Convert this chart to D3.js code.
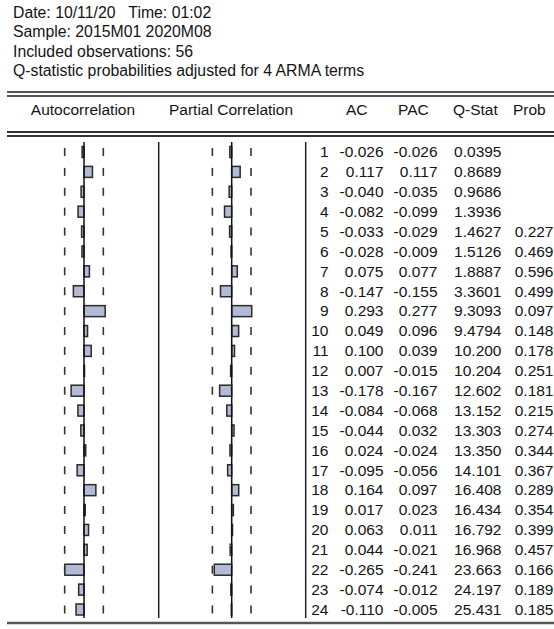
<!DOCTYPE html>
<html>
<head>
<meta charset="utf-8">
<script src="https://cdn.jsdelivr.net/npm/d3@7"></script>
<style>
  body { margin: 0; background: #fff; }
  svg text { font-family: "Liberation Sans", Arial, sans-serif; font-size: 15.5px; fill: #141414; white-space: pre; }
</style>
</head>
<body>
<svg id="chart" width="554" height="629"></svg>
<script>
// correlogram data
const infoLines = [
  'Date: 10/11/20   Time: 01:02',
  'Sample: 2015M01 2020M08',
  'Included observations: 56',
  'Q-statistic probabilities adjusted for 4 ARMA terms'
];
const lags = d3.range(1, 25);
const ac = [-0.026, 0.117, -0.040, -0.082, -0.033, -0.028, 0.075, -0.147, 0.293, 0.049, 0.100, 0.007,
  -0.178, -0.084, -0.044, 0.024, -0.095, 0.164, 0.017, 0.063, 0.044, -0.265, -0.074, -0.110];
const pac = [-0.026, 0.117, -0.035, -0.099, -0.029, -0.009, 0.077, -0.155, 0.277, 0.096, 0.039, -0.015,
  -0.167, -0.068, 0.032, -0.024, -0.056, 0.097, 0.023, 0.011, -0.021, -0.241, -0.012, -0.005];
const qstat = [0.0395, 0.8689, 0.9686, 1.3936, 1.4627, 1.5126, 1.8887, 3.3601, 9.3093, 9.4794, 10.200, 10.204,
  12.602, 13.152, 13.303, 13.350, 14.101, 16.408, 16.434, 16.792, 16.968, 23.663, 24.197, 25.431];
const prob = [null, null, null, null, 0.227, 0.469, 0.596, 0.499, 0.097, 0.148, 0.178, 0.251,
  0.181, 0.215, 0.274, 0.344, 0.367, 0.289, 0.354, 0.399, 0.457, 0.166, 0.189, 0.185];
const nobs = 56;

const svg = d3.select('#chart');
const bound = 2 / Math.sqrt(nobs);
const pxPerUnit = 72.3;

const y = d3.scalePoint().domain(lags).range([152, 609.5]);
const xAc = d3.scaleLinear().domain([-1, 1]).range([84 - pxPerUnit, 84 + pxPerUnit]);
const xPac = d3.scaleLinear().domain([-1, 1]).range([231.7 - pxPerUnit, 231.7 + pxPerUnit]);

// header text
svg.append('g').selectAll('text')
    .data(infoLines)
    .join('text')
    .attr('x', 13)
    .attr('y', (d, i) => 18.3 + i * 19.1)
    .attr('xml:space', 'preserve')
    .style('font-size', '15.8px')
    .text(d => d);

// rules
const rule = (yy, w, c) => svg.append('line')
    .attr('x1', 7).attr('x2', 554).attr('y1', yy).attr('y2', yy)
    .attr('stroke', c).attr('stroke-width', w);
rule(92, 2, '#555');
rule(96, 2, '#555');
rule(132, 2, '#333');
rule(136, 2, '#333');
rule(623, 2.5, '#555');

// column headers
const headers = [
  {t: 'Autocorrelation', x: 83, a: 'middle'},
  {t: 'Partial Correlation', x: 231, a: 'middle'},
  {t: 'AC', x: 346, a: 'start'},
  {t: 'PAC', x: 398, a: 'start'},
  {t: 'Q-Stat', x: 453, a: 'start'},
  {t: 'Prob', x: 513, a: 'start'}
];
svg.append('g').selectAll('text')
    .data(headers)
    .join('text')
    .attr('x', d => d.x)
    .attr('y', 115)
    .attr('text-anchor', d => d.a)
    .text(d => d.t);

// vertical separators
const yTop = 142;
const yBot = 618;
[158.7, 305.7].forEach(xx => svg.append('line')
    .attr('x1', xx).attr('x2', xx).attr('y1', yTop).attr('y2', yBot)
    .attr('stroke', '#222').attr('stroke-width', 1.5));

function drawPanel(x, values) {
  const g = svg.append('g');
  // confidence dashes
  [-bound, bound].forEach(b => {
    g.selectAll(null)
        .data(lags)
        .join('line')
        .attr('x1', x(b)).attr('x2', x(b))
        .attr('y1', d => y(d) - 4).attr('y2', d => y(d) + 4)
        .attr('stroke', '#333').attr('stroke-width', 1.6);
  });
  // bars
  g.selectAll('rect')
      .data(values)
      .join('rect')
      .attr('x', d => Math.min(x(0), x(d)))
      .attr('width', d => Math.abs(x(d) - x(0)))
      .attr('y', (d, i) => y(lags[i]) - 5.5)
      .attr('height', 11)
      .attr('fill', '#b3bad6')
      .attr('stroke', '#2a2a2a')
      .attr('stroke-width', 1.5);
  // zero line
  g.append('line')
      .attr('x1', x(0)).attr('x2', x(0)).attr('y1', yTop).attr('y2', yBot)
      .attr('stroke', '#111').attr('stroke-width', 1.5);
}
drawPanel(xAc, ac);
drawPanel(xPac, pac);

// numeric table
const f3 = d3.format('.3f');
const fq = v => (v < 10 ? v.toFixed(4) : v.toFixed(3));
const cols = [
  {x: 328.5, v: i => String(lags[i])},
  {x: 383.5, v: i => f3(ac[i]).replace('−', '-')},
  {x: 437.5, v: i => f3(pac[i]).replace('−', '-')},
  {x: 501.5, v: i => fq(qstat[i])},
  {x: 553.5, v: i => (prob[i] === null ? '' : f3(prob[i]))}
];
cols.forEach(c => {
  svg.append('g').selectAll('text')
      .data(lags)
      .join('text')
      .attr('x', c.x)
      .attr('y', d => y(d) + 5.3)
      .attr('text-anchor', 'end')
      .text((d, i) => c.v(i));
});
</script>
</body>
</html>
